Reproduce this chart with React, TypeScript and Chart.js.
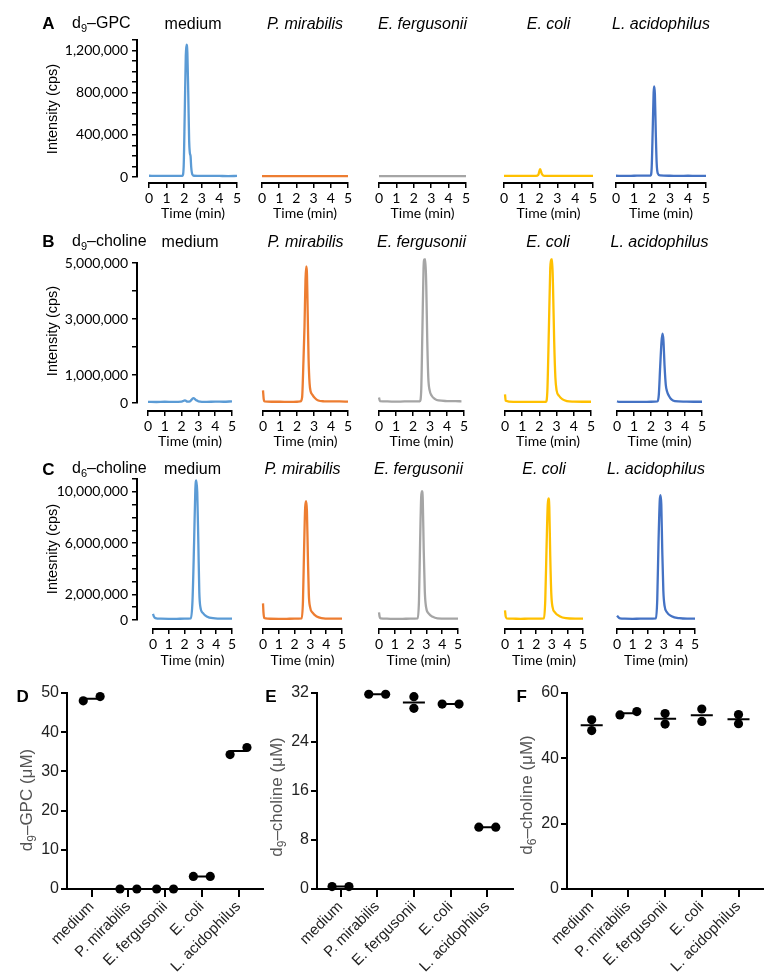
import React, { useEffect, useRef } from "react";
import { Chart, registerables } from "chart.js";
Chart.register(...registerables);

type Pt = [number, number];

// ---------------- DATA ----------------
const species = ["medium", "P. mirabilis", "E. fergusonii", "E. coli", "L. acidophilus"];
const traceColors = ["#5B9BD5", "#ED7D31", "#A5A5A5", "#FFC000", "#4472C4"];
const timeTicks = [0, 1, 2, 3, 4, 5];

// Row A: d9-GPC chromatograms [time (min), intensity (cps)]
const gpcMedium: Pt[] = [[0, 12000], [0.5, 10000], [1, 11000], [1.5, 10000], [1.9, 12000], [1.97, 100000], [2.03, 600000], [2.09, 1150000], [2.13, 1257000], [2.18, 1180000], [2.23, 800000], [2.28, 350000], [2.32, 230000], [2.36, 200000], [2.4, 90000], [2.46, 25000], [2.55, 12000], [3, 10000], [3.5, 11000], [4, 10000], [4.5, 9000], [5, 10000]];
const gpcMirabilis: Pt[] = [[0, 9000], [0.5, 8000], [1, 9000], [1.5, 8000], [2, 9000], [2.5, 8000], [3, 9000], [3.5, 8000], [4, 9000], [4.5, 8000], [5, 8000]];
const gpcFergusonii: Pt[] = [[0, 8000], [0.5, 9000], [1, 8000], [1.5, 9000], [2, 8000], [2.5, 9000], [3, 8000], [3.5, 9000], [4, 8000], [4.5, 9000], [5, 8000]];
const gpcColi: Pt[] = [[0, 10000], [1, 10000], [1.8, 10000], [1.92, 18000], [2.03, 75000], [2.12, 30000], [2.25, 11000], [3, 10000], [4, 10000], [5, 10000]];
const gpcAcidophilus: Pt[] = [[0, 12000], [0.5, 11000], [1, 12000], [1.5, 13000], [1.92, 14000], [1.98, 80000], [2.04, 450000], [2.09, 800000], [2.12, 860000], [2.16, 790000], [2.21, 420000], [2.26, 130000], [2.32, 35000], [2.45, 15000], [3, 12000], [3.5, 11000], [4, 12000], [4.5, 11000], [5, 11000]];

// Row B: d9-choline chromatograms
const d9Medium: Pt[] = [[0, 40000], [0.5, 35000], [1, 45000], [1.5, 40000], [2, 50000], [2.2, 95000], [2.35, 50000], [2.5, 60000], [2.7, 175000], [2.85, 110000], [3, 60000], [3.5, 40000], [4, 50000], [4.5, 45000], [5, 60000]];
const d9Mirabilis: Pt[] = [[0, 450000], [0.04, 150000], [0.1, 55000], [0.5, 45000], [1, 45000], [1.5, 40000], [2, 45000], [2.2, 55000], [2.3, 200000], [2.38, 1500000], [2.44, 2700000], [2.5, 4400000], [2.54, 4880000], [2.58, 4700000], [2.63, 3200000], [2.68, 1600000], [2.74, 700000], [2.8, 420000], [2.9, 300000], [3.05, 180000], [3.25, 90000], [3.6, 60000], [4, 55000], [4.5, 55000], [5, 50000]];
const d9Fergusonii: Pt[] = [[0, 200000], [0.05, 70000], [0.5, 55000], [1, 50000], [1.5, 55000], [2, 55000], [2.4, 60000], [2.48, 400000], [2.55, 2500000], [2.62, 4800000], [2.67, 5130000], [2.73, 5130000], [2.78, 4200000], [2.84, 2200000], [2.9, 900000], [2.98, 450000], [3.1, 260000], [3.3, 140000], [3.5, 90000], [4, 70000], [4.5, 65000], [4.85, 60000]];
const d9Coli: Pt[] = [[0, 310000], [0.04, 80000], [0.5, 40000], [1, 38000], [1.5, 40000], [2, 38000], [2.38, 45000], [2.46, 400000], [2.55, 2600000], [2.63, 4800000], [2.68, 5130000], [2.74, 5130000], [2.79, 4200000], [2.86, 2200000], [2.93, 900000], [3.0, 450000], [3.15, 250000], [3.35, 130000], [3.6, 70000], [4, 50000], [4.5, 45000], [5, 45000]];
const d9Acidophilus: Pt[] = [[0, 60000], [0.1, 40000], [0.5, 38000], [1, 40000], [1.5, 40000], [2, 45000], [2.38, 55000], [2.46, 300000], [2.54, 1300000], [2.62, 2200000], [2.68, 2480000], [2.73, 2250000], [2.8, 1300000], [2.87, 650000], [2.94, 420000], [3.05, 260000], [3.2, 130000], [3.4, 70000], [4, 50000], [4.5, 45000], [5, 45000]];

// Row C: d6-choline chromatograms
const d6Medium: Pt[] = [[0, 470000], [0.05, 300000], [0.15, 150000], [0.5, 100000], [1, 90000], [1.5, 95000], [2, 100000], [2.4, 130000], [2.5, 1500000], [2.6, 6000000], [2.68, 10200000], [2.74, 10900000], [2.8, 10000000], [2.87, 6000000], [2.93, 2200000], [3, 1000000], [3.15, 550000], [3.4, 280000], [3.8, 140000], [4.5, 100000], [5, 100000]];
const d6Mirabilis: Pt[] = [[0, 1300000], [0.03, 600000], [0.08, 150000], [0.3, 100000], [1, 90000], [1.5, 95000], [2, 100000], [2.45, 120000], [2.53, 1500000], [2.6, 5500000], [2.67, 8800000], [2.73, 9280000], [2.78, 8500000], [2.84, 5000000], [2.9, 2000000], [2.98, 1000000], [3.15, 550000], [3.4, 280000], [3.7, 150000], [4.3, 100000], [5, 100000]];
const d6Fergusonii: Pt[] = [[0, 600000], [0.04, 250000], [0.1, 130000], [0.5, 100000], [1, 90000], [1.5, 95000], [2, 100000], [2.45, 130000], [2.53, 1500000], [2.6, 6000000], [2.67, 9600000], [2.72, 10050000], [2.77, 9400000], [2.83, 5500000], [2.9, 2200000], [2.98, 1000000], [3.15, 500000], [3.4, 250000], [3.7, 130000], [4.3, 100000], [5, 100000]];
const d6Coli: Pt[] = [[0, 750000], [0.04, 300000], [0.1, 130000], [0.5, 100000], [1, 95000], [1.5, 100000], [2, 100000], [2.5, 130000], [2.58, 1500000], [2.66, 5500000], [2.74, 9000000], [2.79, 9490000], [2.84, 8800000], [2.9, 5000000], [2.97, 2000000], [3.05, 1000000], [3.2, 600000], [3.5, 300000], [3.9, 140000], [4.5, 100000], [5, 100000]];
const d6Acidophilus: Pt[] = [[0, 330000], [0.1, 200000], [0.2, 120000], [0.5, 100000], [1, 95000], [1.5, 100000], [2, 100000], [2.5, 130000], [2.58, 1600000], [2.66, 6000000], [2.74, 9300000], [2.79, 9740000], [2.84, 9000000], [2.9, 5500000], [2.97, 2300000], [3.05, 1100000], [3.2, 600000], [3.5, 300000], [4, 140000], [4.5, 100000], [5, 100000]];

// y tick marks and labelled ticks of the chromatogram rows
const gpcYTicks = [0, 100000, 200000, 300000, 400000, 500000, 600000, 700000, 800000, 900000, 1000000, 1100000, 1200000, 1300000];
const gpcYLabels = [0, 400000, 800000, 1200000];
const d9YTicks = [0, 1000000, 2000000, 3000000, 4000000, 5000000];
const d9YLabels = [0, 1000000, 3000000, 5000000];
const d6YTicks = [0, 1000000, 2000000, 3000000, 4000000, 5000000, 6000000, 7000000, 8000000, 9000000, 10000000, 11000000];
const d6YLabels = [0, 2000000, 6000000, 10000000];

// Panels D-F: concentrations (µM), two replicates per condition
const gpcConcRep1 = [48.0, 0, 0, 3.2, 34.3];
const gpcConcRep2 = [49.1, 0, 0, 3.2, 36.1];
const d9ConcRep1 = [0.4, 31.8, 31.4, 30.2, 10.1];
const d9ConcRep2 = [0.4, 31.8, 29.5, 30.2, 10.1];
const d6ConcRep1 = [51.8, 53.3, 53.7, 55.1, 53.4];
const d6ConcRep2 = [48.5, 54.3, 50.5, 51.3, 50.6];
const gpcConcTicks = [0, 10, 20, 30, 40, 50];
const d9ConcTicks = [0, 8, 16, 24, 32];
const d6ConcTicks = [0, 20, 40, 60];

// ---------------- LAYOUT ----------------
const CHROM_FONT = "Lato, 'Open Sans', sans-serif";
const SANS = "'Liberation Sans', Arial, sans-serif";

const rows = [
  { title: "d9", rest: "–GPC", yTitle: "Intensity (cps)", traces: [gpcMedium, gpcMirabilis, gpcFergusonii, gpcColi, gpcAcidophilus], ticks: gpcYTicks, labels: gpcYLabels, max: 1300000, topTick: 1300000, yTop: 40, y0: 177, axisY: 183, x0: [149, 262, 379, 504, 616], x5: [237, 348, 466, 593, 706], letter: "A", letterY: 23, titleY: 24, timeY: 213, yTitleY: 109 },
  { title: "d9", rest: "–choline", yTitle: "Intensity (cps)", traces: [d9Medium, d9Mirabilis, d9Fergusonii, d9Coli, d9Acidophilus], ticks: d9YTicks, labels: d9YLabels, max: 5000000, topTick: 5000000, yTop: 263, y0: 403, axisY: 411, x0: [148, 263, 379, 505, 617], x5: [232, 348, 464, 591, 702], letter: "B", letterY: 240.5, titleY: 242, timeY: 441, yTitleY: 331 },
  { title: "d6", rest: "–choline", yTitle: "Intesnity (cps)", traces: [d6Medium, d6Mirabilis, d6Fergusonii, d6Coli, d6Acidophilus], ticks: d6YTicks, labels: d6YLabels, max: 11000000, topTick: 11000000, yTop: 479, y0: 620, axisY: 629, x0: [153, 263, 379, 505, 617], x5: [232, 342, 458, 583, 695], letter: "C", letterY: 469, titleY: 469, timeY: 660, yTitleY: 549 },
];

const Y_AXIS_X = 137;
const WY = 100, PADX = 8, PADT = 14, HX = 26;

const fmt = (v: number) => String(v).replace(/\B(?=(\d{3})+(?!\d))/g, ",");

const baseOptions = {
  responsive: false,
  animation: false,
  events: [],
  plugins: { legend: { display: false }, tooltip: { enabled: false }, title: { display: false } },
};

// One chromatogram trace panel; its own x axis (0-5 min) is the Chart.js border
function chromPanel(r: number, c: number) {
  const row = rows[r];
  const chartLeft = row.x0[c], chartRight = row.x5[c];
  const canvasLeft = chartLeft - PADX;
  const width = chartRight + PADX - canvasLeft;
  const canvasTop = row.yTop - PADT;
  const height = row.axisY + HX - canvasTop;
  const pxUnit = (row.y0 - row.yTop) / row.max;
  const ymax = row.max;
  const ymin = -(row.axisY - row.y0) / pxUnit;
  const config: any = {
    type: "scatter",
    data: {
      datasets: [
        {
          data: row.traces[c].map(([x, y]) => ({ x, y })),
          showLine: true,
          borderColor: traceColors[c],
          borderWidth: 2.3,
          pointRadius: 0,
          cubicInterpolationMode: "monotone",
          clip: false,
        },
      ],
    },
    options: {
      ...baseOptions,
      layout: { padding: { left: PADX, right: PADX, top: PADT, bottom: 0 } },
      scales: {
        x: {
          type: "linear",
          min: timeTicks[0],
          max: timeTicks[timeTicks.length - 1],
          afterBuildTicks: (s: any) => { s.ticks = timeTicks.map((v) => ({ value: v })); },
          afterFit: (s: any) => { s.height = HX; },
          ticks: { font: { family: CHROM_FONT, size: 14 }, color: "#000", padding: 2, maxRotation: 0, autoSkip: false },
          grid: { display: true, drawOnChartArea: false, drawTicks: true, tickLength: 5, color: "#000", lineWidth: 1.5 },
          border: { display: true, color: "#000", width: 2 },
        },
        y: { type: "linear", display: false, min: ymin, max: ymax },
      },
    },
  };
  return { left: canvasLeft, top: canvasTop, width, height, config };
}

// The shared intensity axis at the left of each chromatogram row (0 to top tick)
function chromYAxis(r: number) {
  const row = rows[r];
  const canvasLeft = Y_AXIS_X - WY;
  const width = WY + 4;
  const canvasTop = row.yTop - PADT;
  const height = row.y0 + PADT - canvasTop;
  const config: any = {
    type: "scatter",
    data: { datasets: [{ data: [] }] },
    options: {
      ...baseOptions,
      layout: { padding: { left: 0, right: 2, top: PADT, bottom: PADT } },
      scales: {
        x: { type: "linear", display: false, min: 0, max: 1 },
        y: {
          type: "linear",
          min: 0,
          max: row.topTick,
          afterBuildTicks: (s: any) => { s.ticks = row.ticks.map((v) => ({ value: v })); },
          afterFit: (s: any) => { s.width = WY; },
          ticks: { callback: (v: number) => (row.labels.includes(v) ? fmt(v) : ""), font: { family: CHROM_FONT, size: 14 }, color: "#000", padding: 4, autoSkip: false },
          grid: { display: true, drawOnChartArea: false, drawTicks: true, tickLength: 5, color: "#000", lineWidth: 1.5 },
          border: { display: true, color: "#000", width: 2 },
        },
      },
    },
  };
  return { left: canvasLeft, top: canvasTop, width, height, config };
}

const concPanels = [
  { rep1: gpcConcRep1, rep2: gpcConcRep2, ticks: gpcConcTicks, max: 50, left: 66.7, right: 263, c0: 91.7, letter: "D", letterX: 22.7, yTitle: ["d", "9", "–GPC (μM)"], yTitleX: 25.5, yTitleY: 800 },
  { rep1: d9ConcRep1, rep2: d9ConcRep2, ticks: d9ConcTicks, max: 32, left: 316.7, right: 513.3, c0: 340.5, letter: "E", letterX: 271, yTitle: ["d", "9", "–choline (μM)"], yTitleX: 275.5, yTitleY: 796.7 },
  { rep1: d6ConcRep1, rep2: d6ConcRep2, ticks: d6ConcTicks, max: 60, left: 567.3, right: 763.3, c0: 591.7, letter: "F", letterX: 521.7, yTitle: ["d", "6", "–choline (μM)"], yTitleX: 525.5, yTitleY: 795 },
];
const C_TOP = 693, C_BOTTOM = 889, C_WY = 45, C_PADL = 4, C_PADR = 8, C_PADT = 12, C_HX = 90, C_SP = 36.7;

function concPanel(i: number) {
  const p = concPanels[i];
  const canvasLeft = Math.round(p.left - C_WY - C_PADL);
  const chartLeft = canvasLeft + C_WY + C_PADL;
  const width = Math.round(p.right + C_PADR - canvasLeft);
  const chartRight = canvasLeft + width - C_PADR;
  const xmin = -(p.c0 - chartLeft) / C_SP;
  const xmax = (chartRight - p.c0) / C_SP;
  const canvasTop = C_TOP - C_PADT;
  const height = C_BOTTOM + C_HX - canvasTop;
  const dots: any[] = [];
  const means: any[] = [];
  p.rep1.forEach((a, k) => {
    const b = p.rep2[k];
    const spread = Math.abs(a - b) < p.max * 0.045 ? 0.23 : 0;
    dots.push({ x: k - spread, y: a }, { x: k + spread, y: b });
    const m = (a + b) / 2;
    const hw = spread ? spread : 0.3;
    means.push({ x: k - hw, y: m }, { x: k + hw, y: m }, { x: k, y: null });
  });
  const config: any = {
    type: "scatter",
    data: {
      datasets: [
        { data: means, showLine: true, borderColor: "#000", borderWidth: 2, pointRadius: 0, spanGaps: false, clip: false },
        { data: dots, pointRadius: 4.6, backgroundColor: "#000", borderWidth: 0, clip: false },
      ],
    },
    options: {
      ...baseOptions,
      layout: { padding: { left: C_PADL, right: C_PADR, top: C_PADT, bottom: 0 } },
      scales: {
        x: {
          type: "linear",
          min: xmin,
          max: xmax,
          afterBuildTicks: (s: any) => { s.ticks = species.map((_, k) => ({ value: k })); },
          afterFit: (s: any) => { s.height = C_HX; },
          ticks: { callback: (v: number) => species[v] ?? "", font: { family: SANS, size: 15 }, color: "#222", padding: 1, minRotation: 45, maxRotation: 45, autoSkip: false },
          grid: { display: true, drawOnChartArea: false, drawTicks: true, tickLength: 8, color: "#000", lineWidth: 2 },
          border: { display: true, color: "#000", width: 2 },
        },
        y: {
          type: "linear",
          min: 0,
          max: p.max,
          afterBuildTicks: (s: any) => { s.ticks = p.ticks.map((v) => ({ value: v })); },
          afterFit: (s: any) => { s.width = C_WY; },
          ticks: { font: { family: SANS, size: 16 }, color: "#222", padding: 2, autoSkip: false },
          grid: { display: true, drawOnChartArea: false, drawTicks: true, tickLength: 6, color: "#000", lineWidth: 2 },
          border: { display: true, color: "#000", width: 2 },
        },
      },
    },
  };
  return { left: canvasLeft, top: canvasTop, width, height, config };
}

function ChartBox({ spec }: { spec: { left: number; top: number; width: number; height: number; config: any } }) {
  const ref = useRef<HTMLCanvasElement>(null);
  useEffect(() => {
    const chart = new Chart(ref.current as HTMLCanvasElement, spec.config);
    return () => chart.destroy();
  }, []);
  return (
    <canvas
      ref={ref}
      width={spec.width}
      height={spec.height}
      style={{ position: "absolute", left: spec.left, top: spec.top, width: spec.width, height: spec.height }}
    />
  );
}

function Label({ x, y, children, style, rotate }: { x: number; y: number; children: any; style?: any; rotate?: boolean }) {
  return (
    <div
      style={{
        position: "absolute",
        left: x,
        top: y,
        transform: rotate ? "translate(-50%, -50%) rotate(-90deg)" : "translate(-50%, -50%)",
        whiteSpace: "nowrap",
        lineHeight: 1,
        ...style,
      }}
    >
      {children}
    </div>
  );
}

export default function App() {
  const specs: any[] = [];
  rows.forEach((_, r) => {
    species.forEach((_, c) => specs.push({ key: `c${r}${c}`, spec: chromPanel(r, c) }));
    specs.push({ key: `y${r}`, spec: chromYAxis(r) });
  });
  concPanels.forEach((_, i) => specs.push({ key: `d${i}`, spec: concPanel(i) }));
  const letterStyle = { fontFamily: SANS, fontWeight: "bold", fontSize: 17, color: "#000" };
  const sansText = { fontFamily: SANS, color: "#000" };
  return (
    <div style={{ position: "absolute", left: 0, top: 0, width: 779, height: 980, overflow: "hidden", background: "#fff" }}>
      {specs.map((s) => (
        <ChartBox key={s.key} spec={s.spec} />
      ))}
      {rows.map((row, r) => (
        <React.Fragment key={`t${r}`}>
          <Label x={48.3} y={row.letterY} style={letterStyle}>{row.letter}</Label>
          <div style={{ position: "absolute", left: 72, top: row.titleY - 9, whiteSpace: "nowrap", lineHeight: 1, fontSize: 16, ...sansText }}>
            {row.title[0]}
            <sub style={{ fontSize: 11, verticalAlign: "-4px", lineHeight: 0 }}>{row.title[1]}</sub>
            {row.rest}
          </div>
          <Label x={52} y={row.yTitleY} rotate style={{ ...sansText, fontSize: 14.5 }}>{row.yTitle}</Label>
          {species.map((sp, c) => (
            <React.Fragment key={`s${r}${c}`}>
              <Label x={(row.x0[c] + row.x5[c]) / 2} y={row.titleY} style={{ ...sansText, fontSize: 16, fontStyle: c === 0 ? "normal" : "italic" }}>{sp}</Label>
              <Label x={(row.x0[c] + row.x5[c]) / 2} y={row.timeY} style={{ fontFamily: CHROM_FONT, color: "#000", fontSize: 14 }}>Time (min)</Label>
            </React.Fragment>
          ))}
        </React.Fragment>
      ))}
      {concPanels.map((p, i) => (
        <React.Fragment key={`p${i}`}>
          <Label x={p.letterX} y={696} style={letterStyle}>{p.letter}</Label>
          <Label x={p.yTitleX} y={p.yTitleY} rotate style={{ fontFamily: SANS, fontSize: 17, color: "#555" }}>
            {p.yTitle[0]}
            <sub style={{ fontSize: 12, verticalAlign: "-4px", lineHeight: 0 }}>{p.yTitle[1]}</sub>
            {p.yTitle[2]}
          </Label>
        </React.Fragment>
      ))}
    </div>
  );
}
